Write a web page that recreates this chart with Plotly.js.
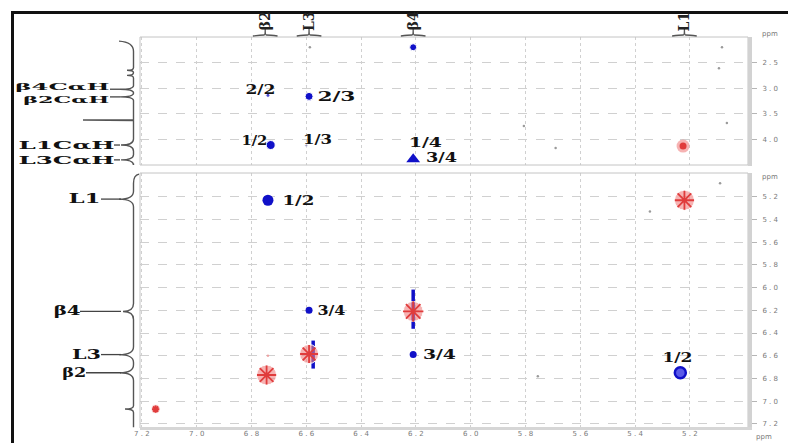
<!DOCTYPE html>
<html><head><meta charset="utf-8">
<script src="https://cdn.plot.ly/plotly-3.0.1.min.js"></script>
<style>html,body{margin:0;padding:0;background:#fff;}#chart{width:788px;height:443px;}</style>
</head><body><div id="chart"></div>
<script>
// ---------- data ----------
const residues   = ['β2', 'L3', 'β4', 'L1'];
const residueNH  = [6.75, 6.59, 6.21, 5.22];
const caLabels   = ['β4CαH', 'β2CαH', 'L1CαH', 'L3CαH'];
const caShift    = [3.02, 3.17, 4.11, 4.40];

const nhTicks = [7.2, 7.0, 6.8, 6.6, 6.4, 6.2, 6.0, 5.8, 5.6, 5.4, 5.2];
const caTicks = [2.5, 3.0, 3.5, 4.0];

// upper panel: NH (x) vs CαH (y)
const upBlueX  = [6.21, 6.74, 6.59, 6.73, 6.60];
const upBlueY  = [2.20, 3.14, 3.16, 4.11, 4.12];
const upTriX   = [6.21];
const upTriY   = [4.39];
const upRedX   = [5.225];
const upRedY   = [4.13];
const upNoiseX = [6.587, 5.083, 5.094, 5.065, 5.69, 5.806];
const upNoiseY = [2.20, 2.20, 2.61, 3.68, 4.17, 3.74];
const upProjExtra = [2.65, 2.75, 3.62];

// lower panel: NH (x) vs NH (y)
const loBlueX  = [6.74, 6.59, 6.21, 5.235];
const loBlueY  = [5.23, 6.20, 6.59, 6.75];
const diagX    = [7.15, 6.745, 6.59, 6.21, 5.22];
const diagY    = [7.07, 6.77, 6.585, 6.21, 5.23];
const streakX  = [6.21, 6.575];
const streakY  = [6.19, 6.59];
const loNoiseX = [5.346, 5.09, 5.755, 6.74];
const loNoiseY = [5.33, 5.08, 6.78, 6.60];

// cross-peak labels
const upLabelText = ['2/2', '2/3', '1/2', '1/3', '1/4', '3/4'];
const upLabelX    = [6.74, 6.59, 6.73, 6.60, 6.21, 6.21];
const upLabelY    = [3.14, 3.16, 4.11, 4.12, 4.11, 4.39];
const loLabelText = ['1/2', '3/4', '3/4', '1/2'];
const loLabelX    = [6.74, 6.59, 6.21, 5.235];
const loLabelY    = [5.23, 6.20, 6.59, 6.75];

// ---------- layout helpers (pixels -> paper) ----------
const W = 788, H = 443;
const px = x => x / W;
const py = y => 1 - y / H;
const xDom  = [px(140), px(748)];
const upDom = [py(165), py(37)];
const loDom = [py(428), py(173)];
const spaced = v => v.toFixed(1).split('').join(' ');

const BLUE = '#1010c8';
const RED = '#e03c3c';
const PINK = 'rgba(240,128,128,0.6)';

// ---------- traces ----------
const traces = [
  // upper panel
  {x: upNoiseX, y: upNoiseY, xaxis: 'x2', yaxis: 'y2', mode: 'markers',
   marker: {size: 2.5, color: '#9a9a9a', opacity: 1}},
  {x: upRedX, y: upRedY, xaxis: 'x2', yaxis: 'y2', mode: 'markers',
   marker: {size: 13, color: PINK, opacity: 1}},
  {x: upRedX, y: upRedY, xaxis: 'x2', yaxis: 'y2', mode: 'markers',
   marker: {size: 7, color: RED, opacity: 1}},
  {x: upBlueX, y: upBlueY, xaxis: 'x2', yaxis: 'y2', mode: 'markers',
   marker: {size: [7, 4, 8, 9, 3], color: [BLUE, '#4a4ad0', BLUE, BLUE, '#9a9ac0'], opacity: 1}},
  {x: upTriX, y: upTriY, xaxis: 'x2', yaxis: 'y2', mode: 'markers',
   marker: {symbol: 'triangle-up', size: 12, color: BLUE, opacity: 1}},
  // lower panel
  {x: loNoiseX, y: loNoiseY, xaxis: 'x', yaxis: 'y', mode: 'markers',
   marker: {size: 2.5, color: ['#9a9a9a', '#9a9a9a', '#9a9a9a', 'rgba(240,150,150,0.8)'], opacity: 1}},
  {x: streakX, y: streakY, xaxis: 'x', yaxis: 'y', mode: 'markers',
   marker: {symbol: 'line-ns', size: [28, 20], color: BLUE, opacity: 1, line: {color: BLUE, width: 3.5}}},
  {x: diagX, y: diagY, xaxis: 'x', yaxis: 'y', mode: 'markers',
   marker: {size: [9, 20, 19, 20, 20], color: PINK, opacity: 1}},
  {x: diagX, y: diagY, xaxis: 'x', yaxis: 'y', mode: 'markers',
   marker: {symbol: 'asterisk-open', size: [6, 16, 15, 17, 16], color: RED, opacity: 1,
            line: {color: RED, width: 1.8}}},
  {x: loBlueX, y: loBlueY, xaxis: 'x', yaxis: 'y', mode: 'markers',
   marker: {size: [11, 7, 7, 11], color: [BLUE, BLUE, BLUE, '#5a5ae8'], opacity: 1,
            line: {color: BLUE, width: [0, 0, 0, 2.5]}}}
];

// ---------- shapes ----------
const shapes = [];
// thick black frame (top + left)
shapes.push({type: 'line', xref: 'paper', yref: 'paper', x0: px(11), x1: 1, y0: py(12.5), y1: py(12.5),
             line: {color: '#111', width: 3}});
shapes.push({type: 'line', xref: 'paper', yref: 'paper', x0: px(12.5), x1: px(12.5), y0: py(11), y1: 0,
             line: {color: '#111', width: 3}});
// panel frames
[[37, 165], [173, 428]].forEach(([t, b]) => {
  shapes.push({type: 'rect', xref: 'paper', yref: 'paper', x0: xDom[0], x1: xDom[1], y0: py(b), y1: py(t),
               line: {color: '#c4c4c4', width: 1}});
  shapes.push({type: 'rect', xref: 'paper', yref: 'paper', x0: px(748), x1: px(752), y0: py(b + 1), y1: py(t),
               fillcolor: '#d2d2d2', line: {width: 0}});
});
shapes.push({type: 'rect', xref: 'paper', yref: 'paper', x0: xDom[0], x1: px(752), y0: py(430), y1: py(427),
             fillcolor: '#d6d6d6', line: {width: 0}});

// top 1D projection (brace cusps above the NH peaks)
const yb = py(35), yt = py(28.5), d = 0.045;
residueNH.forEach(v => {
  shapes.push({type: 'path', xref: 'x2', yref: 'paper',
    path: `M ${v + d},${py(36)} Q ${v + d * 0.4},${yb} ${v + 0.004},${yb} Q ${v},${yb} ${v},${yt} Q ${v},${yb} ${v - 0.004},${yb} Q ${v - d * 0.4},${yb} ${v - d},${py(36)}`,
    line: {color: '#555', width: 1.3}});
});

// left 1D projection, upper panel (CαH)
const X0 = px(133.5);
const cusp = (y, tip, dd) => ` L ${X0},${y - dd} Q ${X0},${y} ${px(tip)},${y} Q ${X0},${y} ${X0},${y + dd}`;
let pUp = `M ${px(119)},2.08 Q ${X0},2.10 ${X0},2.28`;
pUp += cusp(upProjExtra[0], 127, 0.05) + cusp(upProjExtra[1], 127, 0.05);
pUp += cusp(caShift[0], 120, 0.07) + cusp(caShift[1], 120, 0.07);
pUp += ` L ${X0},${upProjExtra[2]} L ${px(83)},${upProjExtra[2]} L ${X0},${upProjExtra[2] + 0.01}`;
pUp += cusp(caShift[2], 121, 0.12) + cusp(caShift[3], 121, 0.1) + ` L ${X0},4.47`;
shapes.push({type: 'path', xref: 'paper', yref: 'y2', path: pUp, line: {color: '#555', width: 1.4}});

// left 1D projection, lower panel (NH)
const nhSorted = residueNH.slice().sort((a, b) => a - b);
const tips = {5.22: 119, 6.21: 123, 6.59: 119, 6.75: 120};
let pLo = `M ${px(139)},5.0 Q ${X0},5.01 ${X0},5.08`;
nhSorted.forEach(v => { pLo += cusp(v, tips[v], 0.07); });
pLo += cusp(diagY[0], 125, 0.03) + ` L ${X0},7.23`;
shapes.push({type: 'path', xref: 'paper', yref: 'y', path: pLo, line: {color: '#555', width: 1.4}});

// label leader lines
const caLineStart = [110, 110, 114, 114];
caShift.forEach((v, i) => shapes.push({type: 'line', xref: 'paper', yref: 'y2',
  x0: px(caLineStart[i]), x1: px(120), y0: v, y1: v, line: {color: '#444', width: 1.3}}));
const nhLineStart = {'L1': 101, 'β4': 80, 'L3': 101, 'β2': 86};
residues.forEach((r, i) => shapes.push({type: 'line', xref: 'paper', yref: 'y',
  x0: px(nhLineStart[r]), x1: px(121), y0: residueNH[i], y1: residueNH[i], line: {color: '#444', width: 1.3}}));

// ---------- annotations ----------
const annotations = [];
const annWidth = [];
const SERIF = 'DejaVu Serif, Liberation Serif, serif';
function addAnn(a, w) { annotations.push(a); annWidth.push(w || 0); }

const upShift = [[-7, 6], [27, 0], [-16, 5], [11, 6], [12, 3], [28, 2]];
const upW = [30, 38, 26, 29, 33, 31];
upLabelText.forEach((t, i) => addAnn({text: '<b>' + t + '</b>', x: upLabelX[i], y: upLabelY[i],
  xref: 'x2', yref: 'y2', showarrow: false, xshift: upShift[i][0], yshift: upShift[i][1],
  xanchor: 'center', yanchor: 'middle', font: {family: SERIF, size: 13, color: '#111'}}, upW[i]));

const loShift = [[31, 0], [22, 0], [26, 0], [-3, 15]];
const loW = [32, 28, 33, 30];
loLabelText.forEach((t, i) => addAnn({text: '<b>' + t + '</b>', x: loLabelX[i], y: loLabelY[i],
  xref: 'x', yref: 'y', showarrow: false, xshift: loShift[i][0], yshift: loShift[i][1],
  xanchor: 'center', yanchor: 'middle', font: {family: SERIF, size: 13, color: '#111'}}, loW[i]));

// left CαH labels
const caCenter = [62, 66, 66, 66];
const caW = [94, 86, 96, 96];
const caYShift = [3, -3, 0, -1];
const caSize = [10, 10, 11, 11];
caLabels.forEach((t, i) => addAnn({text: '<b>' + t + '</b>', x: px(caCenter[i]), y: caShift[i],
  xref: 'paper', yref: 'y2', showarrow: false, xanchor: 'center', yanchor: 'middle', yshift: caYShift[i],
  font: {family: SERIF, size: caSize[i], color: '#111'}}, caW[i]));

// left NH labels
const nhCenter = {'L1': 84, 'β4': 66.5, 'L3': 86, 'β2': 73.5};
const nhW = {'L1': 32, 'β4': 27, 'L3': 29, 'β2': 24};
residues.forEach((r, i) => addAnn({text: '<b>' + r + '</b>', x: px(nhCenter[r]), y: residueNH[i],
  xref: 'paper', yref: 'y', showarrow: false, xanchor: 'center', yanchor: 'middle',
  font: {family: SERIF, size: 12, color: '#111'}}, nhW[r]));

// top rotated labels
residues.forEach((r, i) => addAnn({text: '<b>' + r + '</b>', x: residueNH[i], y: py(21),
  xref: 'x2', yref: 'paper', showarrow: false, textangle: -90, xanchor: 'center', yanchor: 'middle',
  font: {family: SERIF, size: 14, color: '#222'}}, 0));

// ppm unit labels
[[770, 34], [770, 177], [764, 437]].forEach(([x, y]) => addAnn({text: 'ppm', x: px(x), y: py(y),
  xref: 'paper', yref: 'paper', showarrow: false, xanchor: 'center', yanchor: 'middle',
  font: {family: 'DejaVu Sans, sans-serif', size: 7, color: '#777'}}, 0));

// ---------- axes ----------
const gridC = '#d0d0d0';
const tickFont = {family: 'DejaVu Sans, sans-serif', size: 7, color: '#7a7a7a'};
const layout = {
  width: W, height: H, margin: {l: 0, r: 0, t: 0, b: 0, pad: 0},
  paper_bgcolor: '#fff', plot_bgcolor: '#fff', showlegend: false, hovermode: false,
  xaxis: {domain: xDom, range: [7.207, 4.988], anchor: 'y', tickvals: nhTicks, ticktext: nhTicks.map(spaced),
          tickfont: tickFont, showgrid: true, gridcolor: gridC, griddash: 'dot', gridwidth: 1,
          zeroline: false, showline: false, ticks: '', automargin: false},
  xaxis2: {domain: xDom, range: [7.207, 4.988], anchor: 'y2', matches: 'x', tickvals: nhTicks,
           showticklabels: false, showgrid: true, gridcolor: gridC, griddash: 'dot', gridwidth: 1,
           zeroline: false, showline: false, ticks: '', automargin: false},
  yaxis: {domain: loDom, range: [7.237, 4.99], anchor: 'x', side: 'right', tickvals: nhTicks,
          ticktext: nhTicks.map(spaced), tickfont: tickFont, showgrid: true, gridcolor: gridC,
          griddash: 'dash', zeroline: false, showline: false, ticks: 'outside', ticklen: 8,
          tickcolor: '#b5b5b5', ticklabelstandoff: 4, automargin: false},
  yaxis2: {domain: upDom, range: [4.5, 2.0], anchor: 'x2', side: 'right', tickvals: caTicks,
           ticktext: caTicks.map(spaced), tickfont: tickFont, showgrid: true, gridcolor: gridC,
           griddash: 'dash', zeroline: false, showline: false, ticks: 'outside', ticklen: 8,
           tickcolor: '#b5b5b5', ticklabelstandoff: 4, automargin: false},
  shapes: shapes, annotations: annotations
};

Plotly.newPlot('chart', traces, layout, {staticPlot: true, displayModeBar: false}).then(gd => {
  gd.querySelectorAll('.annotation').forEach(g => {
    const idx = +g.getAttribute('data-index');
    const w = annWidth[idx];
    if (!w) return;
    const t = g.querySelector('text.annotation-text');
    if (!t) return;
    t.setAttribute('textLength', w);
    t.setAttribute('lengthAdjust', 'spacingAndGlyphs');
  });
});
</script>
</body></html>
